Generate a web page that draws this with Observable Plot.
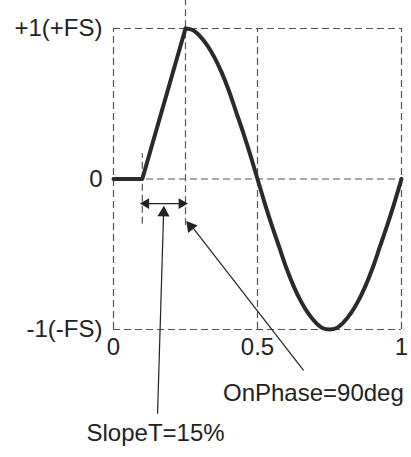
<!DOCTYPE html>
<html><head><meta charset="utf-8">
<script src="https://cdn.jsdelivr.net/npm/d3@7"></script>
<script src="https://cdn.jsdelivr.net/npm/@observablehq/plot@0.6"></script>
<style>body{margin:0;background:#fff}</style>
</head><body><div id="chart"></div>
<script>
// Ramp segment (SlopeT = 15%)
const rampX = [0, 0.1, 0.25];
const rampY = [0, 0, 1];
// Sine segment (OnPhase = 90deg)
const waveX = [0.25,0.275,0.3,0.325,0.35,0.375,0.4,0.425,0.45,0.475,0.5,0.525,0.55,0.575,0.6,0.625,0.65,0.675,0.7,0.725,0.75,0.775,0.8,0.825,0.85,0.875,0.9,0.925,0.95,0.975,1];
const waveY = [1,0.99,0.95,0.89,0.81,0.71,0.59,0.45,0.31,0.16,0,-0.16,-0.31,-0.45,-0.59,-0.71,-0.81,-0.89,-0.95,-0.99,-1,-0.99,-0.95,-0.89,-0.81,-0.71,-0.59,-0.45,-0.31,-0.16,0];
const xTicks = [0, 0.5, 1];
const xTickLabels = ["0", "0.5", "1"];
const yTicks = [-1, 0, 1];
const yTickLabels = ["-1(-FS)", "0", "+1(+FS)"];
const slopeLabel = "SlopeT=15%";
const phaseLabel = "OnPhase=90deg";

const ramp = rampX.map((x, i) => ({x, y: rampY[i]}));
const wave = waveX.map((x, i) => ({x, y: waveY[i]}));

const gridColor = "#555";
const dash = "7,4";
const font = "Liberation Sans, Arial, sans-serif";
const fs = 24;

const chart = Plot.plot({
  width: 411, height: 457,
  marginLeft: 113, marginRight: 10, marginTop: 28, marginBottom: 128,
  style: {fontFamily: font, fontSize: fs + "px", color: "#222", background: "#fff", overflow: "visible"},
  x: {domain: [0, 1]},
  y: {domain: [-1, 1]},
  marks: [
    Plot.ruleY(yTicks, {x1: 0, x2: 1, stroke: gridColor, strokeDasharray: dash, strokeWidth: 1.2}),
    Plot.ruleX(xTicks, {y1: -1, y2: 1, stroke: gridColor, strokeDasharray: dash, strokeWidth: 1.2}),
    Plot.ruleX([0.25], {y1: -0.31, y2: 1.19, stroke: gridColor, strokeDasharray: dash, strokeWidth: 1.2}),
    Plot.ruleX([0.1], {y1: -0.3, y2: 0.17, stroke: gridColor, strokeDasharray: dash, strokeWidth: 1.2}),
    Plot.line(ramp, {x: "x", y: "y", stroke: "#2a2a2a", strokeWidth: 4}),
    Plot.line(wave, {x: "x", y: "y", stroke: "#2a2a2a", strokeWidth: 4, curve: "catmull-rom"}),
    // SlopeT double arrow
    Plot.link([0], {x1: 0.115, x2: 0.235, y1: -0.163, y2: -0.163, stroke: "#222", strokeWidth: 1.3}),
    Plot.dot([0], {x: 0.113, y: -0.163, symbol: "triangle", r: 4, fill: "#222", stroke: null, rotate: -90}),
    Plot.dot([0], {x: 0.237, y: -0.163, symbol: "triangle", r: 4, fill: "#222", stroke: null, rotate: 90}),
    // SlopeT leader
    Plot.link([0], {x1: 0.153, y1: -1.56, x2: 0.174, y2: -0.22, stroke: "#222", strokeWidth: 1.2}),
    Plot.dot([0], {x: 0.174, y: -0.225, symbol: "triangle", r: 4.5, fill: "#222", stroke: null, rotate: 2}),
    // OnPhase leader
    Plot.link([0], {x1: 0.66, y1: -1.272, x2: 0.27, y2: -0.31, stroke: "#222", strokeWidth: 1.2}),
    Plot.dot([0], {x: 0.268, y: -0.315, symbol: "triangle", r: 4.5, fill: "#222", stroke: null, rotate: -38}),
    Plot.text([slopeLabel], {x: 0.146, y: -1.69, text: d => d, fontSize: fs, fill: "#222", textAnchor: "middle"}),
    Plot.text([phaseLabel], {x: 0.694, y: -1.425, text: d => d, fontSize: fs, fill: "#222", textAnchor: "middle"}),
    Plot.axisY(yTicks, {tickSize: 0, tickPadding: 11, tickFormat: (d) => yTickLabels[yTicks.indexOf(d)], fontSize: fs, fill: "#222", label: null}),
    Plot.axisX(xTicks, {tickSize: 0, tickPadding: 8, tickFormat: d => xTickLabels[xTicks.indexOf(d)], fontSize: fs, fill: "#222", label: null})
  ]
});
document.getElementById("chart").append(chart);
</script></body></html>
